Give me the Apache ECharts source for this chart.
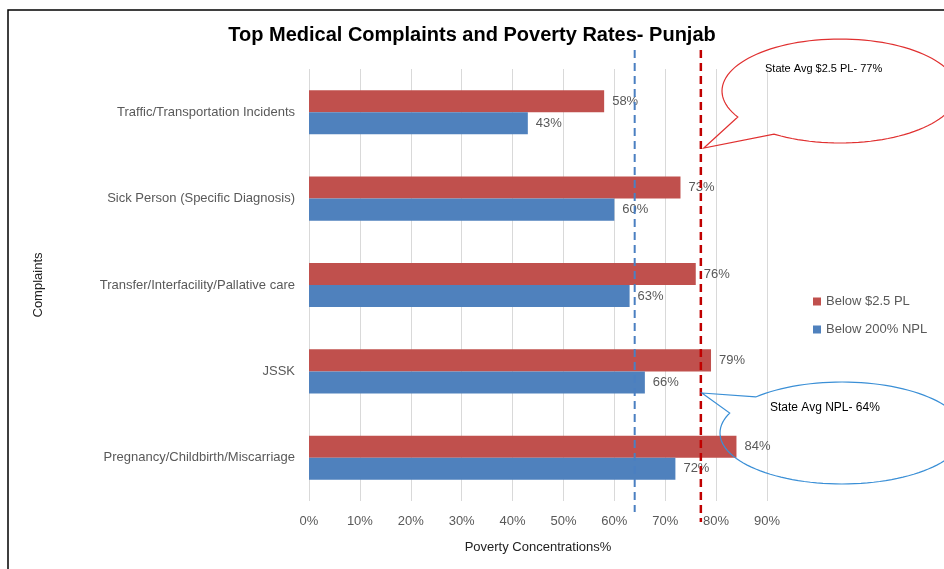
<!DOCTYPE html>
<html>
<head>
<meta charset="utf-8">
<script src="https://cdn.jsdelivr.net/npm/echarts@6/dist/echarts.min.js"></script>
<style>
  html, body { margin: 0; padding: 0; background: #fff; }
  #main { width: 944px; height: 569px; }
</style>
</head>
<body>
<div id="main"></div>
<script>
// data
const complaints = [
  'Traffic/Transportation Incidents',
  'Sick Person (Specific Diagnosis)',
  'Transfer/Interfacility/Pallative care',
  'JSSK',
  'Pregnancy/Childbirth/Miscarriage'
];
const belowPL = [58, 73, 76, 79, 84];      // Below $2.5 PL
const belowNPL = [43, 60, 63, 66, 72];     // Below 200% NPL
const stateAvgPL = 77;
const stateAvgNPL = 64;
const xTicks = [0, 10, 20, 30, 40, 50, 60, 70, 80, 90];

const font = '"Liberation Sans", Arial, sans-serif';
const gray = '#595959';

let chart = echarts.init(document.getElementById('main'));

chart.setOption({
  animation: false,
  textStyle: { fontFamily: font },
  title: {
    text: 'Top Medical Complaints and Poverty Rates- Punjab',
    left: 'center',
    top: 20,
    textStyle: { fontSize: 20, fontWeight: 'bold', color: '#000', fontFamily: font }
  },
  legend: {
    orient: 'vertical',
    left: 808,
    top: 290,
    icon: 'rect',
    itemWidth: 8,
    itemHeight: 8,
    itemGap: 15,
    textStyle: { color: gray, fontSize: 13, fontFamily: font },
    data: ['Below $2.5 PL', 'Below 200% NPL']
  },
  grid: { left: 309, top: 69, right: 177, bottom: 68, containLabel: false },
  xAxis: {
    type: 'value',
    min: 0,
    max: 90,
    interval: 10,
    name: 'Poverty Concentrations%',
    nameLocation: 'middle',
    nameGap: 40,
    nameTextStyle: { color: '#222', fontSize: 13, fontFamily: font },
    axisLine: { show: false },
    axisTick: { show: false },
    axisLabel: {
      color: gray, fontSize: 13, margin: 14,
      formatter: v => (xTicks.indexOf(v) >= 0 ? v + '%' : '')
    },
    splitLine: { show: true, lineStyle: { color: '#d9d9d9', width: 1 } }
  },
  yAxis: {
    type: 'category',
    inverse: true,
    data: complaints,
    name: 'Complaints',
    nameLocation: 'middle',
    nameGap: 264,
    nameTextStyle: { color: '#222', fontSize: 13, fontFamily: font },
    axisLine: { show: false },
    axisTick: { show: false },
    axisLabel: { color: gray, fontSize: 13, margin: 14 },
    splitLine: { show: false }
  },
  series: [
    {
      name: 'Below $2.5 PL',
      type: 'bar',
      data: belowPL,
      barGap: '0%',
      barCategoryGap: '49%',
      itemStyle: { color: '#c0504d' },
      label: { show: true, position: 'right', distance: 8, color: gray, fontSize: 13, formatter: '{c}%' }
    },
    {
      name: 'Below 200% NPL',
      type: 'bar',
      data: belowNPL,
      barGap: '0%',
      barCategoryGap: '49%',
      itemStyle: { color: '#4f81bd' },
      label: { show: true, position: 'right', distance: 8, color: gray, fontSize: 13, formatter: '{c}%' }
    }
  ]
});

// state average lines and callouts, placed from the axis scale
const xPL = chart.convertToPixel({ xAxisIndex: 0 }, stateAvgPL);
const xNPL = chart.convertToPixel({ xAxisIndex: 0 }, stateAvgNPL);

// speech bubble outline: ellipse with a gap between two angles, plus a pointed tail
function bubble(cx, cy, rx, ry, gapFrom, gapTo, tip) {
  const pts = [tip];
  for (let a = gapTo; a <= gapFrom + 360; a += 3) {
    const r = a * Math.PI / 180;
    pts.push([cx + rx * Math.cos(r), cy + ry * Math.sin(r)]);
  }
  const r = (gapFrom + 360) * Math.PI / 180;
  pts.push([cx + rx * Math.cos(r), cy + ry * Math.sin(r)]);
  return pts;
}

const redC = '#e03030';
const blueC = '#3a8fd6';

chart.setOption({
  graphic: [
    // outer frame
    { type: 'rect', shape: { x: 8, y: 10, width: 1000, height: 620 },
      style: { fill: 'none', stroke: '#000', lineWidth: 1.5 }, z: 1 },
    // dashed average lines
    { type: 'line', shape: { x1: xNPL, y1: 50, x2: xNPL, y2: 512 },
      style: { stroke: '#4a7fc1', lineWidth: 2, lineDash: [8, 5] }, z: 50 },
    { type: 'line', shape: { x1: xPL, y1: 50, x2: xPL, y2: 522 },
      style: { stroke: '#c00000', lineWidth: 2.5, lineDash: [8, 5] }, z: 50 },

    // red callout
    { type: 'polygon', shape: { points: bubble(840, 91, 118, 52, 124, 150, [xPL + 3, 148]) },
      style: { fill: 'none', stroke: redC, lineWidth: 1.2 }, z: 60 },
    { type: 'text', left: 765, top: 63,
      style: { text: 'State Avg $2.5 PL- 77%', fill: '#000', fontSize: 11, fontFamily: font }, z: 63 },

    // blue callout
    { type: 'polygon', shape: { points: bubble(842, 433, 122, 51, 203, 225, [xPL + 1, 393]) },
      style: { fill: 'none', stroke: blueC, lineWidth: 1.2 }, z: 60 },
    { type: 'text', left: 770, top: 402,
      style: { text: 'State Avg NPL- 64%', fill: '#000', fontSize: 12, fontFamily: font }, z: 63 }
  ]
});
</script>
</body>
</html>
